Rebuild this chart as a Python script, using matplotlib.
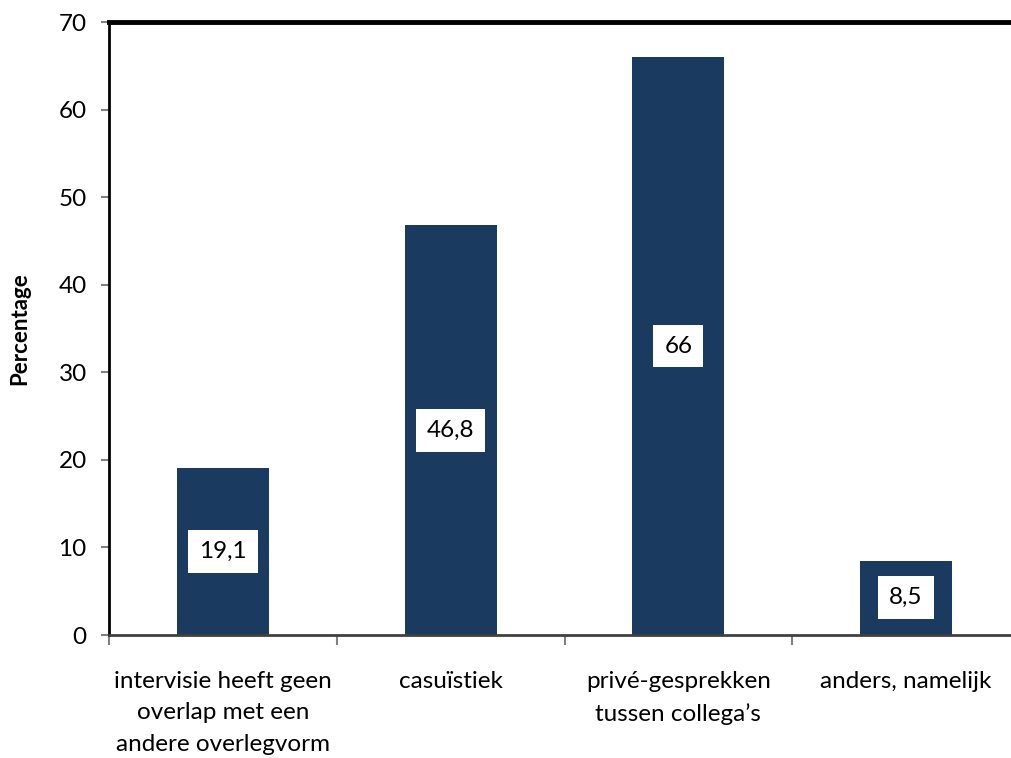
import numpy as np
from matplotlib import pyplot as plt

categories = ['intervisie heeft geen\noverlap met een\nandere overlegvorm',
              'casuïstiek',
              'privé-gesprekken\ntussen collega\u2019s',
              'anders, namelijk']
values = [19.1, 46.8, 66, 8.5]
value_labels = ['19,1', '46,8', '66', '8,5']
yticks = np.arange(0, 80, 10)

plt.rcParams['font.family'] = ['Lato', 'DejaVu Sans']
plt.rcParams['font.size'] = 17.5

W, H = 1011, 758
fig = plt.figure(figsize=(W / 100, H / 100), dpi=100)
left, right, top, bottom = 109, 1020, 22, 635
ax = fig.add_axes([left / W, 1 - bottom / H, (right - left) / W, (bottom - top) / H])

x = np.arange(len(values))
ax.bar(x, values, width=0.405, color='#1b3a5f', zorder=2)
for xi, v, lab in zip(x, values, value_labels):
    ax.text(xi, v / 2, lab, ha='center', va='center', fontsize=17.5,
            bbox=dict(boxstyle='square,pad=0.45', fc='white', ec='none'), zorder=3)

ax.set_xlim(-0.5, len(values) - 0.5)
ax.set_ylim(0, 70)
ax.set_yticks(yticks)
ax.set_xticks(x)
ax.set_xticklabels(categories, linespacing=1.6)
ax.set_xticks(np.arange(-0.5, len(values), 1), minor=True)
ax.tick_params(axis='x', which='major', length=0, pad=26)
ax.tick_params(axis='x', which='minor', length=7, color='#808080', width=1.5)
ax.tick_params(axis='y', length=6, color='#808080', width=1.5, pad=10)

ax.spines['top'].set_linewidth(3.5)
ax.spines['left'].set_linewidth(2)
ax.spines['bottom'].set_linewidth(2)
ax.spines['bottom'].set_color('#404040')
ax.spines['right'].set_visible(False)

ax.set_ylabel('Percentage', fontweight='bold', fontsize=16, labelpad=20)

fig.savefig('out.png', dpi=100)
